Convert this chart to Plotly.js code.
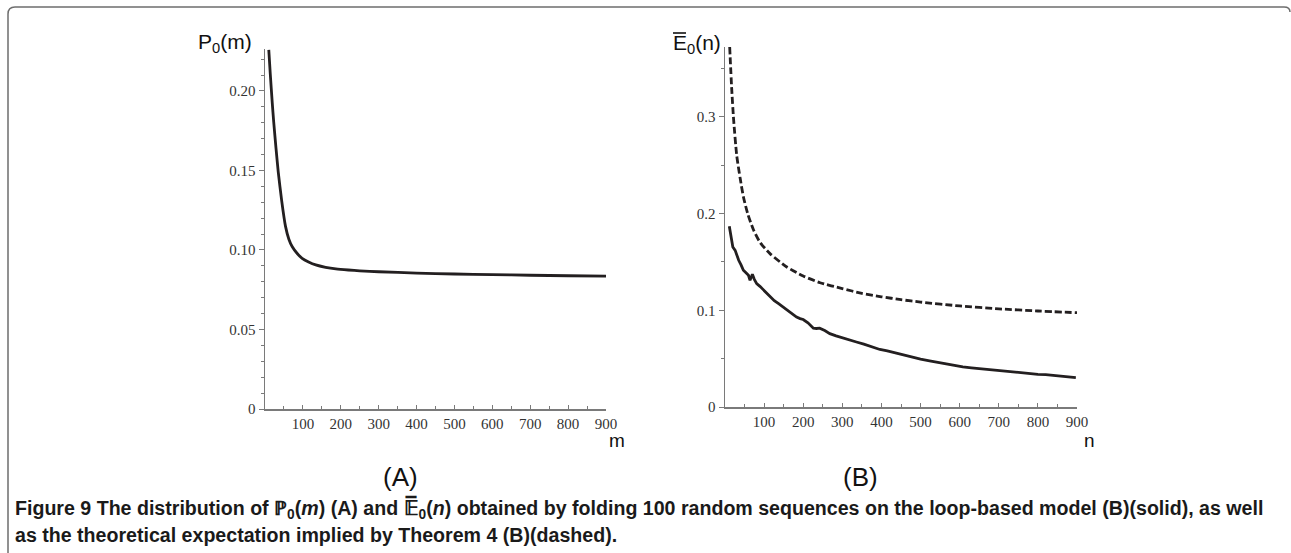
<!DOCTYPE html>
<html>
<head>
<meta charset="utf-8">
<script src="https://cdn.plot.ly/plotly-3.0.1.min.js"></script>
<style>html,body{margin:0;padding:0;background:#fff;}#chart{width:1291px;height:553px;}</style>
</head>
<body>
<div id="chart"></div>
<script>
// Panel A: P0(m)
const mValues = [10, 14, 19, 23, 29, 35, 44, 54, 63, 72, 85, 98, 115, 134, 160, 187, 220, 250, 300, 400, 500, 600, 700, 800, 900];
const p0Values = [0.2258, 0.2105, 0.1930, 0.1805, 0.1640, 0.1490, 0.1310, 0.1150, 0.1068, 0.1020, 0.0978, 0.0948, 0.0925, 0.0906, 0.0891, 0.0881, 0.0874, 0.0869, 0.0863, 0.0855, 0.0849, 0.0845, 0.0841, 0.0838, 0.0836];

// Panel B: dashed (theoretical expectation)
const nTheory = [12, 17, 22, 30, 39, 47, 58, 73, 90, 115, 158, 200, 243, 300, 350, 400, 450, 500, 600, 700, 800, 900];
const eTheory = [0.3723, 0.33, 0.2975, 0.26, 0.236, 0.2175, 0.2, 0.183, 0.170, 0.1586, 0.1448, 0.1355, 0.1285, 0.1225, 0.1175, 0.1140, 0.1110, 0.1085, 0.1045, 0.1015, 0.0993, 0.0975];

// Panel B: solid (folding 100 random sequences)
const nFolded = [11, 15, 20, 26, 30, 35, 41, 47, 53, 60, 64, 67, 70, 75, 81, 90, 98, 106, 115, 126, 137, 148, 158, 170, 183, 192, 200, 212, 226, 234, 242, 255, 268, 284, 300, 318, 336, 355, 375, 396, 415, 438, 460, 480, 500, 523, 545, 566, 587, 608, 630, 650, 672, 693, 714, 735, 757, 778, 800, 820, 842, 863, 880, 897];
const eFolded = [0.1869, 0.178, 0.1655, 0.162, 0.157, 0.1517, 0.147, 0.1414, 0.139, 0.1362, 0.131, 0.134, 0.1372, 0.132, 0.1276, 0.1245, 0.1214, 0.118, 0.1138, 0.110, 0.1069, 0.1035, 0.100, 0.097, 0.093, 0.0914, 0.0905, 0.087, 0.0815, 0.0812, 0.0815, 0.079, 0.0759, 0.0735, 0.0714, 0.069, 0.0672, 0.065, 0.0625, 0.0595, 0.058, 0.0555, 0.0535, 0.051, 0.0495, 0.0478, 0.046, 0.0445, 0.0425, 0.0415, 0.0405, 0.0397, 0.0385, 0.0373, 0.0368, 0.0362, 0.0352, 0.0345, 0.0338, 0.0335, 0.0326, 0.0317, 0.0312, 0.0304];

// Tick labels
const xTickVals = [100, 200, 300, 400, 500, 600, 700, 800, 900];
const yTickValsA = [0, 0.05, 0.10, 0.15, 0.20];
const yTickTextA = ["0", "0.05", "0.10", "0.15", "0.20"];
const yTickValsB = [0, 0.1, 0.2, 0.3];
const yTickTextB = ["0", "0.1", "0.2", "0.3"];

const W = 1291, H = 553;
const px = x => x / W;
const py = y => 1 - y / H;

const lineCol = '#231f20';
const axisCol = '#7a7a7a';
const tickFont = {family: 'Liberation Serif, serif', size: 15, color: '#333'};
const sansLabel = 'Liberation Sans, Arial, sans-serif';
const capFont = {family: 'Liberation Sans, Arial, sans-serif', size: 19.6, color: '#1a1a1a'};

const traces = [
  {x: mValues, y: p0Values, xaxis: 'x', yaxis: 'y', mode: 'lines', line: {color: lineCol, width: 2.8, shape: 'spline', smoothing: 0.6}, hoverinfo: 'skip'},
  {x: nTheory, y: eTheory, xaxis: 'x2', yaxis: 'y2', mode: 'lines', line: {color: lineCol, width: 2.8, dash: '7px,3px', shape: 'spline', smoothing: 0.6}, hoverinfo: 'skip'},
  {x: nFolded, y: eFolded, xaxis: 'x2', yaxis: 'y2', mode: 'lines', line: {color: lineCol, width: 2.8}, hoverinfo: 'skip'}
];

function xAxis(domain, anchor) {
  return {
    domain: domain, anchor: anchor, range: [0, 900], showgrid: false, zeroline: false,
    showline: true, linecolor: axisCol, linewidth: 1.5,
    tickmode: 'array', tickvals: xTickVals, ticks: 'inside', ticklen: 4, tickcolor: axisCol, tickwidth: 1,
    minor: {tickmode: 'linear', tick0: 0, dtick: 50, ticks: 'inside', ticklen: 3, tickcolor: axisCol},
    tickfont: tickFont, fixedrange: true
  };
}
function yAxis(domain, anchor, range, vals, text, minorStep) {
  return {
    domain: domain, anchor: anchor, range: range, showgrid: false, zeroline: false,
    showline: true, linecolor: axisCol, linewidth: 1.5,
    tickmode: 'array', tickvals: vals, ticktext: text, ticks: 'outside', ticklen: 5, tickcolor: axisCol, tickwidth: 1,
    minor: {tickmode: 'linear', tick0: 0, dtick: minorStep, ticks: 'outside', ticklen: 3, tickcolor: axisCol},
    tickfont: tickFont, fixedrange: true
  };
}

const layout = {
  width: W, height: H,
  margin: {l: 0, r: 0, t: 0, b: 0},
  paper_bgcolor: '#fff', plot_bgcolor: 'rgba(0,0,0,0)',
  showlegend: false,
  xaxis: xAxis([px(265), px(606)], 'y'),
  yaxis: yAxis([py(409), py(49)], 'x', [0, 0.2264], yTickValsA, yTickTextA, 0.01),
  xaxis2: xAxis([px(725), px(1077)], 'y2'),
  yaxis2: yAxis([py(407), py(47)], 'x2', [0, 0.3723], yTickValsB, yTickTextB, 0.05),
  shapes: [
    {type: 'path', xref: 'paper', yref: 'paper',
     path: 'M ' + px(8) + ',' + py(553) + ' L ' + px(8) + ',' + py(14) + ' Q ' + px(8) + ',' + py(7) + ' ' + px(15) + ',' + py(7) +
           ' L ' + px(1284) + ',' + py(7) + ' Q ' + px(1290) + ',' + py(7) + ' ' + px(1290) + ',' + py(12),
     line: {color: '#6e6e6e', width: 1.5}},
    // overbar of E in the panel B axis label
    {type: 'line', xref: 'paper', yref: 'paper', x0: px(673), x1: px(686), y0: py(33), y1: py(33),
     line: {color: '#111', width: 1.6}}
  ],
  annotations: [
    {xref: 'paper', yref: 'paper', x: px(196), y: py(43), xanchor: 'left', yanchor: 'middle', showarrow: false,
     text: 'P<sub>0</sub>(m)', font: {family: sansLabel, size: 21, color: '#111'}},
    {xref: 'paper', yref: 'paper', x: px(671), y: py(44), xanchor: 'left', yanchor: 'middle', showarrow: false,
     text: 'E<sub>0</sub>(n)', font: {family: sansLabel, size: 21, color: '#111'}},
    {xref: 'paper', yref: 'paper', x: px(617), y: py(440), xanchor: 'center', yanchor: 'middle', showarrow: false,
     text: 'm', font: {family: sansLabel, size: 19, color: '#111'}},
    {xref: 'paper', yref: 'paper', x: px(1089), y: py(440), xanchor: 'center', yanchor: 'middle', showarrow: false,
     text: 'n', font: {family: sansLabel, size: 19, color: '#111'}},
    {xref: 'paper', yref: 'paper', x: px(400), y: py(477), xanchor: 'center', yanchor: 'middle', showarrow: false,
     text: '(A)', font: {family: sansLabel, size: 26, color: '#111'}},
    {xref: 'paper', yref: 'paper', x: px(860), y: py(477), xanchor: 'center', yanchor: 'middle', showarrow: false,
     text: '(B)', font: {family: sansLabel, size: 26, color: '#111'}},
    {xref: 'paper', yref: 'paper', x: px(13), y: py(508), xanchor: 'left', yanchor: 'middle', showarrow: false, align: 'left',
     text: '<b>Figure 9 The distribution of ℙ<sub>0</sub>(<i>m</i>) (A) and 𝔼̅<sub>0</sub>(<i>n</i>) obtained by folding 100 random sequences on the loop-based model (B)(solid), as well</b>',
     font: capFont},
    {xref: 'paper', yref: 'paper', x: px(13), y: py(535), xanchor: 'left', yanchor: 'middle', showarrow: false, align: 'left',
     text: '<b>as the theoretical expectation implied by Theorem 4 (B)(dashed).</b>',
     font: capFont}
  ]
};

Plotly.newPlot('chart', traces, layout, {staticPlot: true, displayModeBar: false});
</script>
</body>
</html>
